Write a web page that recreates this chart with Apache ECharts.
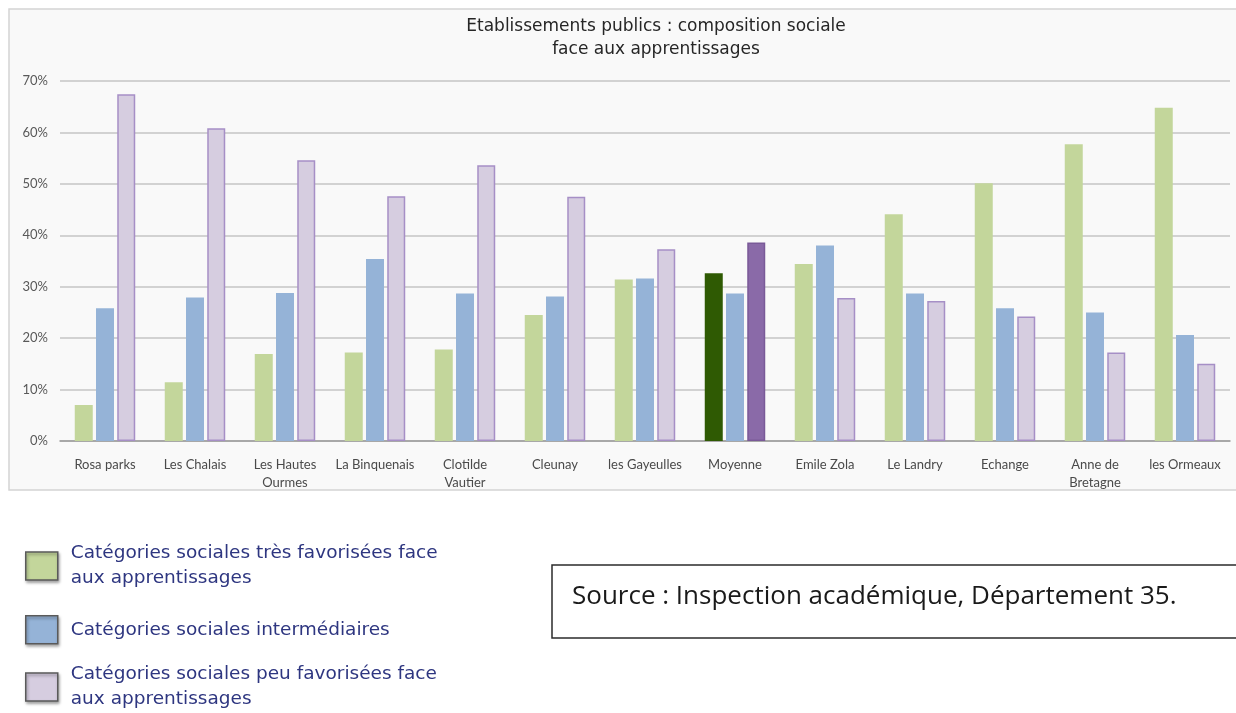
<!DOCTYPE html>
<html><head><meta charset="utf-8">
<script src="https://cdn.jsdelivr.net/npm/echarts@6/dist/echarts.min.js"></script>
<style>html,body{margin:0;padding:0;background:#fff}#c{width:1236px;height:713px}</style>
</head><body><div id="c"></div>
<script>
const categories = ["Rosa parks","Les Chalais","Les Hautes\nOurmes","La Binquenais","Clotilde\nVautier","Cleunay","les Gayeulles","Moyenne","Emile Zola","Le Landry","Echange","Anne de\nBretagne","les Ormeaux"];
const tresFavorisees = [7.0,11.4,16.9,17.2,17.8,24.5,31.4,32.6,34.4,44.1,50.1,57.7,64.8];
const intermediaires = [25.8,27.9,28.8,35.4,28.7,28.1,31.6,28.7,38.0,28.7,25.8,25.0,20.6];
const peuFavorisees = [67.4,60.8,54.6,47.6,53.6,47.5,37.3,38.6,27.8,27.2,24.2,17.2,15.0];
const yTicks = [0,10,20,30,40,50,60,70];
const seriesNames = ["Catégories sociales très favorisées face aux apprentissages","Catégories sociales intermédiaires","Catégories sociales peu favorisées face aux apprentissages"];
const titleLines = ["Etablissements publics : composition sociale","face aux apprentissages"];
const sourceText = "Source : Inspection académique, Département 35.";
const highlightCategory = "Moyenne";

const green = '#c3d69b', blue = '#95b3d7', lilac = '#d6cde0', lilacBorder = '#a68fc6';
const hi = {0:{color:'#2f5a03', borderColor:'#254a00'}, 1:{color:blue}, 2:{color:'#8a6aa8', borderColor:'#7a5a98'}};

function mk(vals, idx, border){
  return vals.map((v,i)=> categories[i]===highlightCategory
    ? {value:v, itemStyle: Object.assign({borderWidth: border?1.5:0}, hi[idx])}
    : v);
}

const chart = echarts.init(document.getElementById('c'));
const legendBase = {
  orient:'vertical', left:25, padding:0, itemWidth:32, itemHeight:28, selectedMode:false, icon:'rect',
  itemStyle:{borderColor:'#5a5a5a', borderWidth:1.5, shadowColor:'rgba(0,0,0,0.35)', shadowBlur:3, shadowOffsetX:1, shadowOffsetY:2},
  textStyle:{fontFamily:'DejaVu Sans', fontSize:18.5, color:'#2e3680', lineHeight:25, padding:[4,0,0,8]},
  formatter: n => n.replace(' face aux', ' face\naux')
};
chart.setOption({
  backgroundColor:'#ffffff',
  animation:false,
  title:{text: titleLines.join('\n'), left:651, textAlign:'center', top:10,
    textStyle:{fontFamily:'DejaVu Sans', fontSize:17, fontWeight:'normal', color:'#262626', lineHeight:23}},
  graphic:[
    {type:'rect', z:-10, shape:{x:9,y:9,width:1240,height:481}, style:{fill:'#f9f9f9', stroke:'#d4d4d4', lineWidth:1.5}},
    {type:'rect', shape:{x:552,y:565,width:700,height:73}, style:{fill:'#ffffff', stroke:'#2b2b2b', lineWidth:1.5}},
    {type:'text', x:572, y:597, style:{text:sourceText, fontFamily:'Open Sans', fontSize:26, fill:'#1a1a1a', verticalAlign:'middle'}}
  ],
  legend:[
    Object.assign({}, legendBase, {top:539, data:[seriesNames[0]]}),
    Object.assign({}, legendBase, {top:615, data:[seriesNames[1]]}),
    Object.assign({}, legendBase, {top:660, data:[seriesNames[2]]})
  ],
  grid:{left:60, right:6, top:81, bottom:272, containLabel:false},
  xAxis:{type:'category', data:categories,
    axisLine:{lineStyle:{color:'#9a9a9a', width:1.5}}, axisTick:{show:false},
    axisLabel:{interval:0, color:'#4a4a4a', fontSize:13, lineHeight:18, margin:15, fontFamily:'Lato'}},
  yAxis:{type:'value', min:0, max:70, interval:10,
    axisLine:{show:false}, axisTick:{show:false},
    splitLine:{lineStyle:{color:'#c4c4c4', width:1.5}},
    axisLabel:{formatter: v => yTicks.includes(v) ? v+'%' : '', color:'#595959', fontSize:13, margin:12, fontFamily:'Lato'}},
  series:[
    {name:seriesNames[0], type:'bar', barWidth:18, barGap:'18%', data:mk(tresFavorisees,0,false), itemStyle:{color:green}},
    {name:seriesNames[1], type:'bar', barWidth:18, data:mk(intermediaires,1,false), itemStyle:{color:blue}},
    {name:seriesNames[2], type:'bar', barWidth:18, data:mk(peuFavorisees,2,true), itemStyle:{color:lilac, borderColor:lilacBorder, borderWidth:1.5}}
  ]
});
</script></body></html>
